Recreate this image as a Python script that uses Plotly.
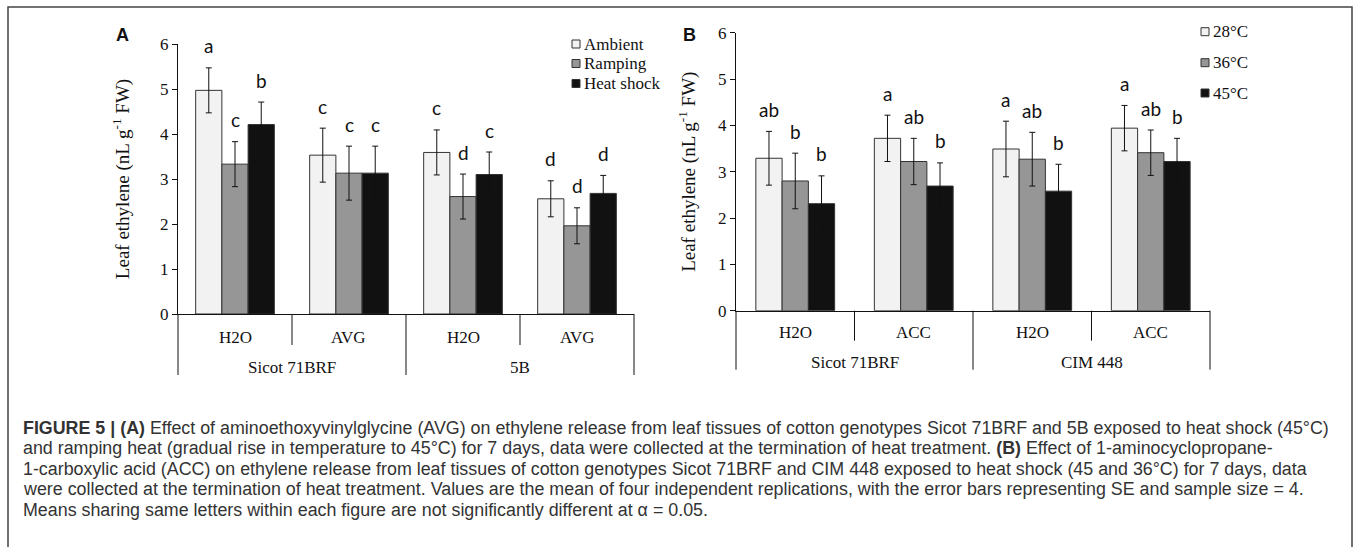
import plotly.graph_objects as go

W, H = 1358, 547

# ---------------- data ----------------
groups_a = ["Sicot 71BRF", "5B"]
subs_a = ["H2O", "AVG", "H2O", "AVG"]
series_a = ["Ambient", "Ramping", "Heat shock"]
vals_a = {
    "Ambient": [4.97, 3.53, 3.59, 2.56],
    "Ramping": [3.33, 3.13, 2.61, 1.96],
    "Heat shock": [4.21, 3.13, 3.10, 2.68],
}
err_a = {
    "Ambient": [0.50, 0.60, 0.50, 0.40],
    "Ramping": [0.50, 0.60, 0.50, 0.40],
    "Heat shock": [0.50, 0.60, 0.50, 0.40],
}
letters_a = {
    "Ambient": ["a", "c", "c", "d"],
    "Ramping": ["c", "c", "d", "d"],
    "Heat shock": ["b", "c", "c", "d"],
}

groups_b = ["Sicot 71BRF", "CIM 448"]
subs_b = ["H2O", "ACC", "H2O", "ACC"]
series_b = ["28°C", "36°C", "45°C"]
vals_b = {
    "28°C": [3.29, 3.72, 3.49, 3.94],
    "36°C": [2.80, 3.22, 3.27, 3.41],
    "45°C": [2.31, 2.69, 2.58, 3.22],
}
err_b = {
    "28°C": [0.58, 0.50, 0.60, 0.49],
    "36°C": [0.60, 0.50, 0.58, 0.49],
    "45°C": [0.60, 0.50, 0.58, 0.50],
}
letters_b = {
    "28°C": ["ab", "a", "a", "a"],
    "36°C": ["b", "ab", "ab", "ab"],
    "45°C": ["b", "b", "b", "b"],
}

y_ticks = [0, 1, 2, 3, 4, 5, 6]

# ---------------- styles ----------------
colors = ["#f2f2f2", "#969696", "#111111"]
SERIF = "Liberation Serif, Times New Roman, serif"
SANS = "Liberation Sans, Arial, sans-serif"
LETTER_FONT = "Lato, Liberation Sans, sans-serif"
INK = "#111111"


def px_x(p):
    return p / W


def px_y(p):
    return 1 - p / H


fig = go.Figure()

panels = [
    dict(xa="x", ya="y", groups=groups_a, subs=subs_a,
         series=series_a, vals=vals_a, err=err_a, letters=letters_a,
         bargap=0.31, x_px=(178, 634), y_px=(314, 44),
         short=31, long=61, sub_y=337, grp_y=367,
         leg_x=572, leg_y=(44, 63.5, 83.5), standoff=25),
    dict(xa="x2", ya="y2", groups=groups_b, subs=subs_b,
         series=series_b, vals=vals_b, err=err_b, letters=letters_b,
         bargap=0.335, x_px=(736, 1210), y_px=(310.7, 32.7),
         short=30, long=59, sub_y=332, grp_y=362,
         leg_x=1201, leg_y=(31.7, 62.7, 93), standoff=17),
]

annotations = []
shapes = []

for p in panels:
    cats = [f"{p['groups'][i // 2]} | {s}" for i, s in enumerate(p["subs"])]
    p["cats"] = cats
    n = len(cats)
    nser = len(p["series"])
    bw = (1 - p["bargap"]) / nser
    x0p, x1p = p["x_px"]
    y0p = p["y_px"][0]

    def cat_px(v, x0p=x0p, x1p=x1p, n=n):
        # window pixel of a category-axis coordinate (range -0.5 .. n-0.5)
        return x0p + (v + 0.5) / n * (x1p - x0p)

    for k, (name, col) in enumerate(zip(p["series"], colors)):
        fig.add_trace(go.Bar(
            x=cats, y=p["vals"][name], name=name,
            xaxis=p["xa"], yaxis=p["ya"], showlegend=False,
            width=bw, offset=(k - nser / 2) * bw,
            marker=dict(color=col, line=dict(color="#333333", width=1)),
            error_y=dict(type="data", array=p["err"][name], visible=True,
                         color=INK, thickness=1, width=3),
            hoverinfo="skip",
        ))
        for i, letter in enumerate(p["letters"][name]):
            annotations.append(dict(
                x=i + (k - (nser - 1) / 2) * bw,
                y=p["vals"][name][i] + p["err"][name][i],
                xref=p["xa"], yref=p["ya"], text=letter, showarrow=False,
                yanchor="middle", yshift=22,
                font=dict(family=LETTER_FONT, size=19, color=INK),
            ))
        # legend entry (square + label)
        ly = p["leg_y"][k]
        lx = p["leg_x"]
        shapes.append(dict(
            type="rect", xref="paper", yref="paper",
            x0=px_x(lx), x1=px_x(lx + 8), y0=px_y(ly + 4), y1=px_y(ly - 4),
            fillcolor=col, line=dict(color="#333333", width=1),
        ))
        annotations.append(dict(
            x=px_x(lx + 10), y=px_y(ly), xref="paper", yref="paper",
            text=name, showarrow=False, xanchor="left", yanchor="middle",
            font=dict(family=SERIF, size=17, color=INK),
        ))

    # category boundary lines below the axis
    for i in range(n + 1):
        length = p["long"] if i % 2 == 0 else p["short"]
        xb = px_x(cat_px(i - 0.5))
        shapes.append(dict(
            type="line", xref="paper", yref="paper",
            x0=xb, x1=xb, y0=px_y(y0p), y1=px_y(y0p + length),
            line=dict(color=INK, width=1),
        ))
    # sub-category labels
    for i, s in enumerate(p["subs"]):
        annotations.append(dict(
            x=px_x(cat_px(i)), y=px_y(p["sub_y"]), xref="paper", yref="paper",
            text=s, showarrow=False, xanchor="center", yanchor="middle",
            font=dict(family=SERIF, size=17, color=INK),
        ))
    # group labels
    for g, name in enumerate(p["groups"]):
        annotations.append(dict(
            x=px_x(cat_px(2 * g + 0.5)), y=px_y(p["grp_y"]),
            xref="paper", yref="paper", text=name,
            showarrow=False, xanchor="center", yanchor="middle",
            font=dict(family=SERIF, size=17, color=INK),
        ))

axis_common = dict(showline=True, linecolor=INK, linewidth=1,
                   showgrid=False, zeroline=False, automargin=False)


def xaxis_def(p, anchor):
    return dict(domain=[px_x(p["x_px"][0]), px_x(p["x_px"][1])],
                anchor=anchor, type="category", categoryorder="array",
                categoryarray=p["cats"], showticklabels=False, ticks="",
                range=[-0.5, len(p["cats"]) - 0.5], **axis_common)


def yaxis_def(p, anchor):
    return dict(domain=[px_y(p["y_px"][0]), px_y(p["y_px"][1])],
                anchor=anchor, range=[0, 6], tickvals=y_ticks,
                ticks="outside", ticklen=5, tickcolor=INK,
                tickfont=dict(family=SERIF, size=17, color=INK),
                title=dict(text="Leaf ethylene (nL g<sup>-1</sup> FW)",
                           font=dict(family=SERIF, size=19, color=INK),
                           standoff=p["standoff"]),
                **axis_common)


fig.update_layout(
    width=W, height=H, autosize=False,
    margin=dict(l=0, r=0, t=0, b=0, pad=0, autoexpand=False),
    paper_bgcolor="white", plot_bgcolor="white",
    barmode="overlay", showlegend=False,
    font=dict(family=SERIF, size=16, color=INK),
    xaxis=xaxis_def(panels[0], "y"),
    yaxis=yaxis_def(panels[0], "x"),
    xaxis2=xaxis_def(panels[1], "y2"),
    yaxis2=yaxis_def(panels[1], "x2"),
)

# frame around the figure
shapes.append(dict(type="rect", xref="paper", yref="paper",
                   x0=px_x(8), x1=px_x(1352), y0=-0.05, y1=px_y(7),
                   line=dict(color="#444444", width=1.5),
                   fillcolor="rgba(0,0,0,0)", layer="below"))

# panel letters
for txt, x, y in [("A", 122, 35), ("B", 689, 35)]:
    annotations.append(dict(x=px_x(x), y=px_y(y), xref="paper", yref="paper",
                            text=f"<b>{txt}</b>", showarrow=False,
                            xanchor="center", yanchor="middle",
                            font=dict(family=SANS, size=18, color=INK)))

# caption
caption_lines = [
    "<b>FIGURE 5 | (A)</b> Effect of aminoethoxyvinylglycine (AVG) on ethylene release from leaf tissues of cotton genotypes Sicot 71BRF and 5B exposed to heat shock (45°C)",
    "and ramping heat (gradual rise in temperature to 45°C) for 7 days, data were collected at the termination of heat treatment. <b>(B)</b> Effect of 1-aminocyclopropane-",
    "1-carboxylic acid (ACC) on ethylene release from leaf tissues of cotton genotypes Sicot 71BRF and CIM 448 exposed to heat shock (45 and 36°C) for 7 days, data",
    "were collected at the termination of heat treatment. Values are the mean of four independent replications, with the error bars representing SE and sample size = 4.",
    "Means sharing same letters within each figure are not significantly different at α = 0.05.",
]
for j, line in enumerate(caption_lines):
    annotations.append(dict(x=px_x(21), y=px_y(427.5 + 20.5 * j),
                            xref="paper", yref="paper", text=line,
                            showarrow=False, xanchor="left", yanchor="middle",
                            font=dict(family=SANS, size=17.85, color="#333333")))

fig.update_layout(annotations=annotations, shapes=shapes)

fig.write_html("out.html", config={"displayModeBar": False})
